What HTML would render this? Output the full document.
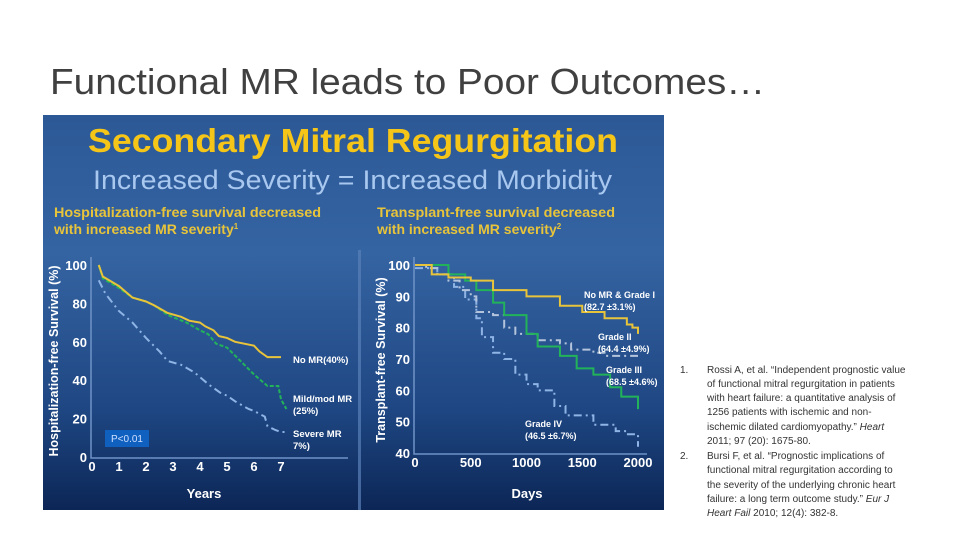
<!DOCTYPE html>
<html><head><meta charset="utf-8"><style>
html,body{margin:0;padding:0;background:#fff;}
svg{display:block;font-family:"Liberation Sans",Arial,sans-serif;}
</style></head><body>
<svg id="s" width="960" height="540" viewBox="0 0 960 540">
<defs>
<linearGradient id="bg" x1="0" y1="0" x2="0" y2="1">
<stop offset="0" stop-color="#2c5896"/><stop offset="0.35" stop-color="#3564a2"/><stop offset="0.75" stop-color="#1e4682"/><stop offset="1" stop-color="#0c2656"/>
</linearGradient>
</defs>
<text x="50" y="94" font-size="36" fill="#404040" textLength="715" lengthAdjust="spacingAndGlyphs">Functional MR leads to Poor Outcomes…</text>
<rect x="43" y="115" width="621" height="395" fill="url(#bg)"/>
<rect x="358" y="250" width="3" height="260" fill="#5a80b8" opacity="0.7"/>
<text x="88" y="152" font-size="33" font-weight="bold" fill="#f5c518" textLength="530" lengthAdjust="spacingAndGlyphs">Secondary Mitral Regurgitation</text>
<text x="93" y="189" font-size="27" fill="#a9c8f0" textLength="519" lengthAdjust="spacingAndGlyphs">Increased Severity = Increased Morbidity</text>
<g font-size="14" font-weight="bold" fill="#e8c43a">
<text x="54" y="217" textLength="267" lengthAdjust="spacingAndGlyphs">Hospitalization-free survival decreased</text>
<text x="54" y="234">with increased MR severity<tspan font-size="8" dy="-5">1</tspan></text>
</g>
<g font-size="14" font-weight="bold" fill="#e8c43a">
<text x="377" y="217" textLength="238" lengthAdjust="spacingAndGlyphs">Transplant-free survival decreased</text>
<text x="377" y="234">with increased MR severity<tspan font-size="8" dy="-5">2</tspan></text>
</g>
<g id="L"></g>
<g id="R"></g>
<g font-size="10" fill="#333">
<text x="680" y="373">1.</text>
<text x="707" y="373">Rossi A, et al.  “Independent prognostic value</text>
<text x="707" y="387">of functional mitral regurgitation in patients</text>
<text x="707" y="401">with heart failure: a quantitative analysis of</text>
<text x="707" y="415">1256 patients with ischemic and non-</text>
<text x="707" y="430">ischemic dilated cardiomyopathy.”  <tspan font-style="italic">Heart</tspan></text>
<text x="707" y="444">2011; 97 (20): 1675-80.</text>
<text x="680" y="459">2.</text>
<text x="707" y="459">Bursi F, et al.  “Prognostic implications of</text>
<text x="707" y="473">functional mitral regurgitation according to</text>
<text x="707" y="488">the severity of the underlying chronic heart</text>
<text x="707" y="502">failure: a long term outcome study.”  <tspan font-style="italic">Eur J</tspan></text>
<text x="707" y="516"><tspan font-style="italic">Heart Fail</tspan> 2010; 12(4): 382-8.</text>
</g>
</svg>
<script>
// Left chart data (years, %)
const leftXTicks=[0,1,2,3,4,5,6,7];
const leftYTicks=[0,20,40,60,80,100];
const noMrX=[0.25,0.4,1,1.5,2,2.3,2.8,3.3,3.6,4,4.2,4.5,4.7,5,5.3,6,6.2,6.5,7];
const noMrY=[100,94,89,83,81,79,75,73,71,70,68,66,63,62,60,58,55,52,52];
const mildX=[0.25,0.4,1,1.5,2,2.3,2.8,3.5,4,4.3,4.6,5,5.5,6,6.5,6.9,7,7.2];
const mildY=[100,93,88,83,81,79,74,70,66,64,59,57,50,43,37,37,30,25];
const severeX=[0.25,0.5,1,1.5,2,2.5,2.8,3.3,3.8,4.3,4.8,5,5.3,5.8,6,6.4,6.5,6.8,7,7.2];
const severeY=[92,85,76,70,62,55,50,48,44,38,33,32,29,25,24,21,16,14,13,13];
// Right chart data (days, %)
const rightXTicks=[0,500,1000,1500,2000];
const rightYTicks=[40,50,60,70,80,90,100];
const g1X=[0,150,300,500,700,1000,1300,1500,1700,1900,1950,2000];
const g1Y=[100,97,96,95,92,90,87,85,83,81,80,78];
const g2X=[0,100,200,300,400,500,550,700,800,900,1100,1300,1400,1600,1700,2000];
const g2Y=[100,99,97,95,92,90,85,84,80,78,76,75,73,72,71,71];
const g3X=[0,200,300,450,550,700,800,1000,1100,1300,1450,1600,1750,1850,2000];
const g3Y=[100,100,97,95,92,88,84,78,74,71,67,65,61,58,54];
const g4X=[0,200,350,450,550,600,700,800,900,1000,1100,1250,1350,1550,1600,1800,1900,2000];
const g4Y=[99,97,93,89,83,77,72,70,65,62,60,55,52,52,49,47,46,42];

const NS="http://www.w3.org/2000/svg";
function mk(parent,tag,attrs,text){const e=document.createElementNS(NS,tag);for(const k in attrs)e.setAttribute(k,attrs[k]);if(text!==undefined)e.textContent=text;parent.appendChild(e);return e;}

function chart(gid,xs,ys,xmin,xmax,ymin,ymax,px0,px1,py0,py1,axR){
  const g=document.getElementById(gid);
  const sx=v=>px0+(v-xmin)/(xmax-xmin)*(px1-px0);
  const sy=v=>py0+(v-ymin)/(ymax-ymin)*(py1-py0);
  const ax=mk(g,'path',{d:`M${px0-1},${sy(ymax)-8} V${py0+1} H${axR}`,stroke:'#6f93c8','stroke-width':1.5,fill:'none'});
  
  
  xs.forEach(v=>{const t=mk(g,'text',{x:sx(v),y:py0+14,'font-size':13,'font-weight':'bold',fill:'#fff','text-anchor':'middle'},String(v));
    
    });
  ys.forEach(v=>{const t=mk(g,'text',{x:px0-5,y:sy(v)+5,'font-size':13,'font-weight':'bold',fill:'#fff','text-anchor':'end'},String(v));
    
    });
  return {g,sx,sy};
}
function step(c,X,Y,color,dash,name){
  let d=`M${c.sx(X[0])},${c.sy(Y[0])}`;
  for(let i=1;i<X.length;i++){d+=` H${c.sx(X[i])} V${c.sy(Y[i])}`;}
  const p=mk(c.g,'path',{d:d,stroke:color,'stroke-width':2,fill:'none','stroke-dasharray':dash});
  
  
}
function line(c,X,Y,color,dash,name){
  const d=X.map((x,i)=>(i?'L':'M')+c.sx(x)+','+c.sy(Y[i])).join(' ');
  const p=mk(c.g,'path',{d:d,stroke:color,'stroke-width':2,fill:'none','stroke-dasharray':dash});
  
  
}
function lbl(g,x,y,lines,name,size){
  const t=mk(g,'text',{'font-size':size||9.5,'font-weight':'bold',fill:'#fff'});
  
  
  lines.forEach((s,i)=>mk(t,'tspan',{x:x,y:y+i*12},s));
}

// Left
const L=chart('L',leftXTicks,leftYTicks,0,7,0,100,92,281,457,265,348);
line(L,severeX,severeY,'#8fb4e6','8 4 2 4','severe-mr-line');
line(L,mildX,mildY,'#22b35a','4 2','mild-mod-mr-line');
line(L,noMrX,noMrY,'#e8c43a','','no-mr-line');
{const g=L.g;
let t=mk(g,'text',{x:58,y:361,'font-size':12.5,'font-weight':'bold',fill:'#fff','text-anchor':'middle',transform:'rotate(-90 58 361)'},'Hospitalization-free Survival (%)');

t=mk(g,'text',{x:204,y:498,'font-size':13,'font-weight':'bold',fill:'#fff','text-anchor':'middle'},'Years');

const r=mk(g,'rect',{x:105,y:430,width:44,height:17,fill:'#1060c0'});

t=mk(g,'text',{x:127,y:442,'font-size':10,fill:'#cfe0ff','text-anchor':'middle'},'P<0.01');

lbl(g,293,363,['No MR(40%)'],'no-mr-label');
lbl(g,293,402,['Mild/mod MR','(25%)'],'mild-mr-label');
lbl(g,293,437,['Severe MR','7%)'],'severe-mr-label');}

// Right
const R=chart('R',rightXTicks,rightYTicks,0,2000,40,100,415,638,453,265,647);
step(R,g4X,g4Y,'#8fb4e6','8 4 2 4','grade-iv-line');
step(R,g2X,g2Y,'#b4c4dc','8 4 2 4','grade-ii-line');
step(R,g3X,g3Y,'#22b35a','','grade-iii-line');
step(R,g1X,g1Y,'#e8c43a','','grade-i-line');
{const g=R.g;
let t=mk(g,'text',{x:385,y:360,'font-size':12.5,'font-weight':'bold',fill:'#fff','text-anchor':'middle',transform:'rotate(-90 385 360)'},'Transplant-free Survival (%)');

t=mk(g,'text',{x:527,y:498,'font-size':13,'font-weight':'bold',fill:'#fff','text-anchor':'middle'},'Days');

lbl(g,584,298,['No MR & Grade I','(82.7 ±3.1%)'],'grade-i-label',9);
lbl(g,598,340,['Grade II','(64.4 ±4.9%)'],'grade-ii-label',9);
lbl(g,606,373,['Grade III','(68.5 ±4.6%)'],'grade-iii-label',9);
lbl(g,525,427,['Grade IV','(46.5 ±6.7%)'],'grade-iv-label',9);}
</script>
</body></html>
